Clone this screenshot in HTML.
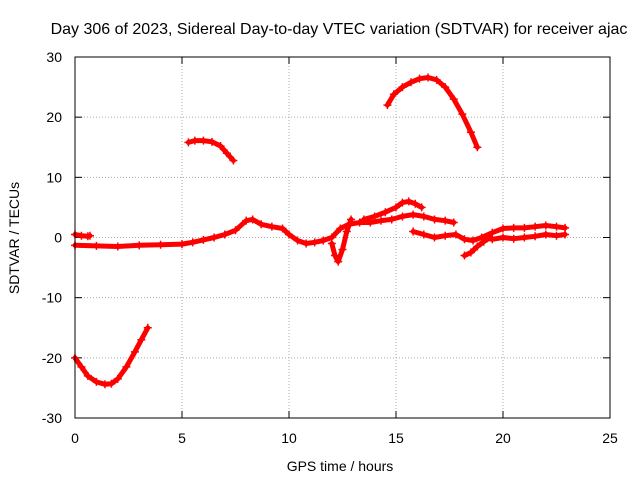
<!DOCTYPE html>
<html><head><meta charset="utf-8"><style>
body{margin:0;background:#fff;}
svg{display:block;font-family:"Liberation Sans",sans-serif;}
</style></head><body>
<svg id="chart" width="640" height="480" viewBox="0 0 640 480" xmlns="http://www.w3.org/2000/svg">
<rect width="640" height="480" fill="#fff"/>
<text x="339" y="34" font-size="16" text-anchor="middle" fill="#000">Day 306 of 2023, Sidereal Day-to-day VTEC variation (SDTVAR) for receiver ajac</text>
<text x="340" y="471" font-size="14" text-anchor="middle">GPS time / hours</text>
<text transform="translate(19,238) rotate(-90)" font-size="14" text-anchor="middle">SDTVAR / TECUs</text>
<g id="grid"></g><g id="ticks"></g><g id="series"></g>
<rect x="75" y="57" width="535" height="361" fill="none" stroke="#000" stroke-width="1"/>
</svg>
<script>
const xTicks=[0,5,10,15,20,25];
const yTicks=[-30,-20,-10,0,10,20,30];
const segA_t=[0,0.3,0.6,1.0,1.4,1.7,2.0,2.4,2.8,3.1,3.4];
const segA_v=[-20,-21.5,-23,-24,-24.4,-24.3,-23.5,-21.5,-19,-17,-15];
const segB_t=[5.3,5.6,6.0,6.4,6.8,7.1,7.4];
const segB_v=[15.8,16.1,16.1,15.9,15.2,14,12.8];
const segC_t=[14.6,14.9,15.3,15.7,16.1,16.5,16.9,17.3,17.7,18.1,18.5,18.8];
const segC_v=[22,23.8,25,25.8,26.4,26.6,26.2,25,23,20.5,17.5,15];
const segD_t=[0,1,2,3,4,5,5.5,6,6.5,7,7.5,8,8.3,8.7,9.2,9.7,10,10.4,10.8,11.2,11.6,12,12.4,12.8,13.3,13.8,14.3,14.8,15.3,15.8,16.3,16.8,17.3,17.7];
const segD_v=[-1.3,-1.4,-1.5,-1.3,-1.2,-1.1,-0.8,-0.4,0,0.5,1.2,2.8,3,2.2,1.8,1.5,0.5,-0.5,-1,-0.8,-0.5,0,1.5,2.2,2.5,2.5,2.8,3,3.5,3.8,3.5,3,2.8,2.5];
const segE_t=[15.8,16.3,16.8,17.3,17.8,18.2,18.6,19,19.5,20,20.5,21,21.5,22,22.5,22.9];
const segE_v=[1,0.5,0,0.3,0.5,-0.3,-0.5,0,0.8,1.5,1.6,1.6,1.8,2,1.8,1.6];
const segF_t=[13.5,14,14.5,15,15.3,15.6,15.9,16.2];
const segF_v=[3,3.5,4.2,5,5.8,6,5.6,5];
const segG_t=[12,12.15,12.3,12.5,12.7,12.9];
const segG_v=[-1,-3,-4,-2,1,3];
const segH_t=[18.2,18.5,18.8,19.1,19.4];
const segH_v=[-3,-2.5,-1.5,-0.7,0];
const segI_t=[0,0.3,0.6,0.7];
const segI_v=[0.5,0.3,0.2,0.3];
const segJ_t=[19.5,20,20.5,21,21.5,22,22.5,22.9];
const segJ_v=[-0.3,0,-0.2,0,0.2,0.5,0.3,0.5];
const X=t=>75+t*535/25;
const Y=v=>237.5-v*361/60;
const ns="http://www.w3.org/2000/svg";
const grid=document.getElementById('grid'),ticks=document.getElementById('ticks'),ser=document.getElementById('series');
function mk(tag,a,p){const e=document.createElementNS(ns,tag);for(const k in a)e.setAttribute(k,a[k]);p.appendChild(e);return e;}
xTicks.forEach(t=>{const x=X(t);
 if(t>0&&t<25){const g=mk('line',{x1:x,x2:x,y1:57,y2:418,stroke:'#aaa','stroke-dasharray':'1,2'},grid);
 
 }
 mk('line',{x1:x,x2:x,y1:418,y2:411,stroke:'#000'},ticks);mk('line',{x1:x,x2:x,y1:57,y2:64,stroke:'#000'},ticks);
 const l=mk('text',{x:x,y:443,'font-size':14,'text-anchor':'middle'},ticks);l.textContent=t;
 
 });
yTicks.forEach(v=>{const y=Y(v);
 if(v>-30&&v<30){const g=mk('line',{x1:75,x2:610,y1:y,y2:y,stroke:'#aaa','stroke-dasharray':'1,2'},grid);
 
 }
 mk('line',{x1:75,x2:82,y1:y,y2:y,stroke:'#000'},ticks);mk('line',{x1:610,x2:603,y1:y,y2:y,stroke:'#000'},ticks);
 const l=mk('text',{x:62,y:y+5,'font-size':14,'text-anchor':'end'},ticks);l.textContent=v;
 
 });
const segs=[[segA_t,segA_v],[segB_t,segB_v],[segC_t,segC_v],[segD_t,segD_v],[segE_t,segE_v],[segF_t,segF_v],[segG_t,segG_v],[segH_t,segH_v],[segI_t,segI_v],[segJ_t,segJ_v]];
segs.forEach((s,i)=>{const pts=s[0].map((t,j)=>X(t).toFixed(1)+','+Y(s[1][j]).toFixed(1)).join(' ');
 const p=mk('polyline',{points:pts,fill:'none',stroke:'#f00','stroke-width':5,'stroke-linejoin':'round','stroke-linecap':'round'},ser);
 
 
 s[0].forEach((t,j)=>{const x=X(t),y=Y(s[1][j]);
  const m=mk('path',{d:`M${x-4},${y}h8M${x},${y-4}v8`,stroke:'#f00','stroke-width':1.5},ser);
  
  });});
</script>
</body></html>
